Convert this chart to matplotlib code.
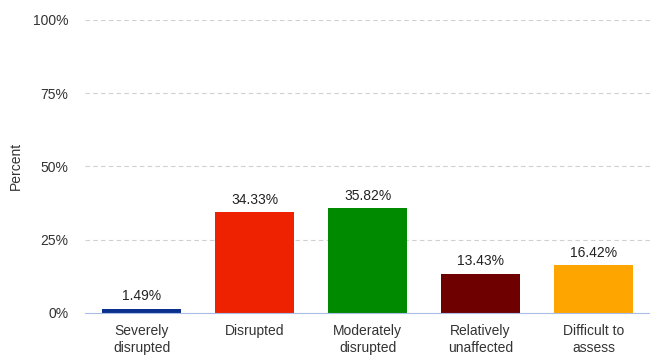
import matplotlib.pyplot as plt

categories = ["Severely\ndisrupted", "Disrupted", "Moderately\ndisrupted",
              "Relatively\nunaffected", "Difficult to\nassess"]
values = [1.49, 34.33, 35.82, 13.43, 16.42]
colors = ["#0b2f8c", "#ee2200", "#008a00", "#6e0000", "#ffa500"]
yticks = [0, 25, 50, 75, 100]

plt.rcParams['font.family'] = ['Liberation Sans', 'DejaVu Sans']

fig = plt.figure(figsize=(6.5, 3.56), dpi=100)
ax = fig.add_axes([0.131, 0.121, 0.869, 0.823])

x = range(len(categories))
ax.bar(x, values, width=0.7, color=colors, zorder=3)
for xi, v in zip(x, values):
    ax.text(xi, v + 1.8, f"{v:.2f}%", ha='center', va='bottom', fontsize=10, color='#222222')

ax.set_xlim(-0.5, len(categories) - 0.5)
ax.set_ylim(0, 100)
ax.set_yticks(yticks)
ax.set_yticklabels([f"{t}%" for t in yticks])
ax.set_xticks(list(x))
ax.set_xticklabels(categories, linespacing=1.3)
ax.tick_params(axis='both', length=0, labelsize=10, colors='#333333')
ax.tick_params(axis='y', pad=12)
ax.tick_params(axis='x', pad=8)
ax.set_ylabel("Percent", fontsize=10, color='#333333')
ax.yaxis.set_label_coords(-0.11, 0.5)

ax.grid(axis='y', linestyle=(0, (4, 3)), color='#d0d0d0', linewidth=0.8, zorder=0)
for s in ['top', 'right', 'left']:
    ax.spines[s].set_visible(False)
ax.spines['bottom'].set_color('#a9bde8')
ax.spines['bottom'].set_zorder(4)
ax.yaxis.get_gridlines()[0].set_visible(False)

plt.savefig('out.png', dpi=100)
